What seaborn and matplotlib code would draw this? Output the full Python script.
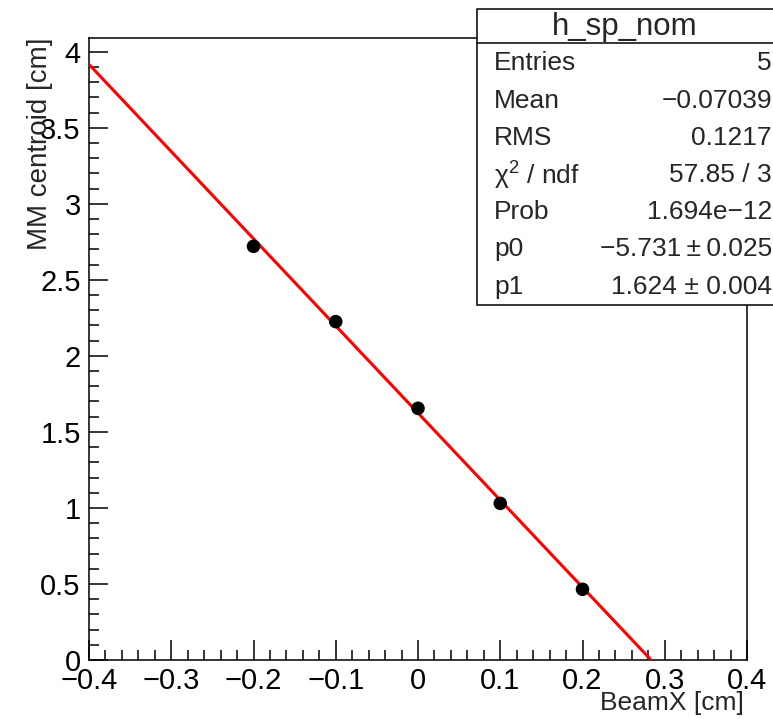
import numpy as np
import pandas as pd
import matplotlib
matplotlib.use("Agg")
import matplotlib.pyplot as plt
import seaborn as sns
from matplotlib.patches import Rectangle
from matplotlib.lines import Line2D
from matplotlib.ticker import MultipleLocator, FuncFormatter

# measured points
beam_x = [-0.2, -0.1, 0.0, 0.1, 0.2]
mm_centroid = [2.72, 2.225, 1.655, 1.03, 0.465]

# fit result (as printed in the stats box)
p0 = -5.731
p1 = 1.624

stat_names = ["Entries", "Mean", "RMS", "\u03c7$^{2}$ / ndf", "Prob", "p0", "p1"]
stat_values = ["5", "\u22120.07039", "0.1217", "57.85 / 3", "1.694e\u221212",
               "\u22125.731\u2009\u00b1\u20090.025", "1.624 \u00b1 0.004"]
hist_name = "h_sp_nom"

sns.set_theme(style="white")
plt.rcParams['font.family'] = ['Liberation Sans', 'DejaVu Sans']
plt.rcParams['mathtext.fontset'] = 'custom'
plt.rcParams['mathtext.rm'] = 'Liberation Sans'

W, H = 773, 719
fig = plt.figure(figsize=(W / 100, H / 100), dpi=100)
ax = fig.add_axes([89 / W, 1 - 660 / H, (747 - 89) / W, (660 - 38) / H])

df = pd.DataFrame({"x": beam_x, "y": mm_centroid})

# fit line over the x range, clipped at y = 0 like ROOT does
xs = np.linspace(-0.4, 0.4, 400)
fit = pd.DataFrame({"x": xs, "y": p1 + p0 * xs})
fit = fit[fit["y"] >= 0]
sns.lineplot(data=fit, x="x", y="y", color="#ff0000", linewidth=2.2, ax=ax, zorder=3)
sns.scatterplot(data=df, x="x", y="y", color="black", s=95, edgecolor="none", ax=ax, zorder=4)


def root_fmt(v, pos):
    return ("%g" % round(v, 2)).replace("-", "\u2212")


ax.set_xlim(-0.4, 0.4)
ax.set_ylim(0, 4.09)
ax.xaxis.set_major_locator(MultipleLocator(0.1))
ax.xaxis.set_minor_locator(MultipleLocator(0.02))
ax.yaxis.set_major_locator(MultipleLocator(0.5))
ax.yaxis.set_minor_locator(MultipleLocator(0.1))
ax.xaxis.set_major_formatter(FuncFormatter(root_fmt))
ax.yaxis.set_major_formatter(FuncFormatter(root_fmt))
ax.tick_params(which="both", direction="in", bottom=True, left=True, top=False, right=False,
               color="black", width=1.1, labelsize=21, labelcolor="black")
ax.tick_params(axis="x", which="major", length=14.5, pad=5)
ax.tick_params(axis="x", which="minor", length=7.5)
ax.tick_params(axis="y", which="major", length=13.5, pad=6)
ax.tick_params(axis="y", which="minor", length=7.5)
for s in ax.spines.values():
    s.set_color("black")
    s.set_linewidth(1.1)
ax.set_xlabel("")
ax.set_ylabel("")

fig.text(744 / W, 1 - 703 / H, "BeamX [cm]", ha="right", va="center", fontsize=19)
fig.text(40 / W, 1 - 37 / H, "MM centroid [cm]", ha="center", va="top",
         rotation=90, fontsize=20)

# stats box
bx0, by0, by1 = 477, 9, 305
fig.patches.append(Rectangle((bx0 / W, 1 - by1 / H), (W + 5 - bx0) / W, (by1 - by0) / H,
                             transform=fig.transFigure, facecolor="white",
                             edgecolor="black", linewidth=1.1, zorder=10))
fig.lines.append(Line2D([bx0 / W, 1.0], [1 - 43 / H, 1 - 43 / H],
                        transform=fig.transFigure, color="black", linewidth=1.1, zorder=11))
fig.text((bx0 + W) / 2 / W, 1 - 27 / H, hist_name, ha="center", va="center",
         fontsize=22.5, zorder=12)
row_y = [63, 101, 138, 175, 212, 249, 287]
for name, val, yy in zip(stat_names, stat_values, row_y):
    fig.text(494 / W, 1 - yy / H, name, ha="left", va="center", fontsize=19, zorder=12)
    fig.text(772 / W, 1 - yy / H, val, ha="right", va="center", fontsize=19, zorder=12)

fig.savefig("out.png", dpi=100)
